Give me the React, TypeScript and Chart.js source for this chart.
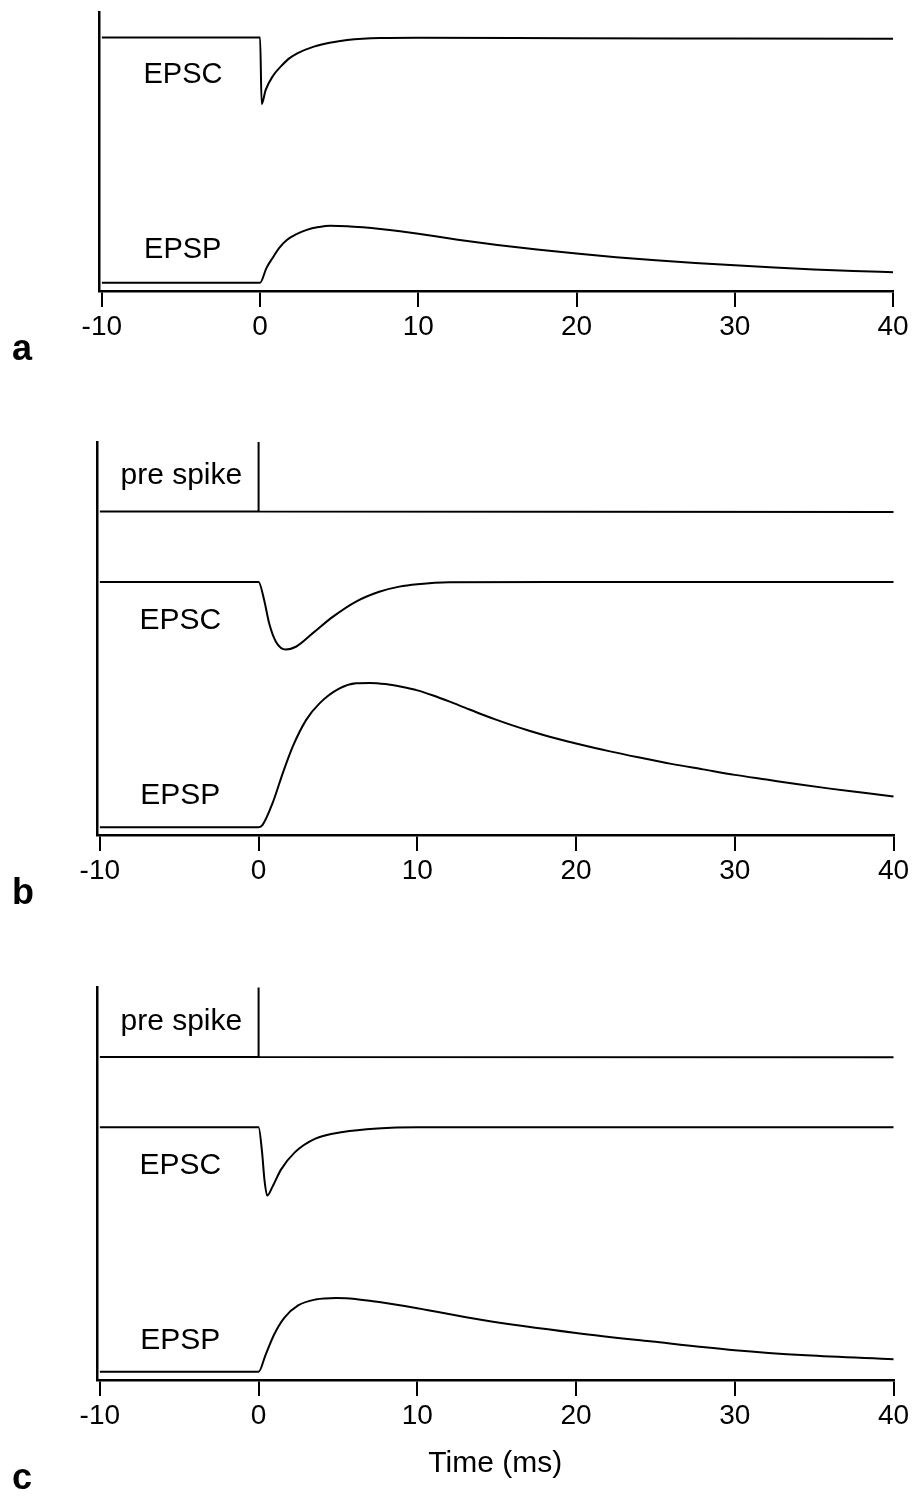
import React, { useEffect, useRef } from "react";
import { Chart, registerables } from "chart.js";

Chart.register(...registerables);

// ---- axis ----
const X_TICKS = [-10, 0, 10, 20, 30, 40];
const X_MIN = -10.18;
const X_MAX = 40;

// ---- panel a (arbitrary units, 0 = x axis, 100 = top of y axis) ----
const A_EPSC_T = [-10, 0, 0.1, 0.35, 0.8, 1.3, 1.8, 2.35, 3.4, 4.4, 5.5, 7.6, 10, 20, 30, 40];
const A_EPSC_V = [90.9, 90.9, 67.0, 72.0, 77.0, 80.4, 83.2, 85.2, 87.6, 89.0, 90.0, 90.7, 90.8, 90.6, 90.5, 90.4];

const A_EPSP_T = [-10, 0, 0.4, 0.84, 1.2, 1.69, 2.3, 2.95, 3.7, 4.42, 5.5, 6.5, 7.6, 8.85, 10, 12.5, 15, 17.5, 20, 22.5, 25, 27.5, 30, 32.5, 35, 37.5, 40];
const A_EPSP_V = [3.0, 3.0, 8.2, 12.3, 15.4, 18.3, 20.4, 21.9, 22.9, 23.4, 23.25, 22.85, 22.25, 21.4, 20.5, 18.4, 16.5, 14.85, 13.4, 12.1, 11.0, 10.0, 9.2, 8.4, 7.75, 7.2, 6.7];

// ---- panel b ----
const B_PRE_T = [-10, 0, 0, 0, 40];
const B_PRE_V = [82.3, 82.3, 100, 82.3, 82.2];

const B_EPSC_T = [-10, 0, 0.35, 0.67, 1.09, 1.72, 2.35, 3.4, 4.67, 6.14, 7.6, 8.87, 10, 12, 20, 30, 40];
const B_EPSC_V = [64.4, 64.4, 59.8, 53.8, 49.2, 47.2, 47.9, 51.3, 55.5, 59.4, 61.9, 63.2, 63.8, 64.3, 64.4, 64.4, 64.4];

const B_EPSP_T = [-10, 0, 0.24, 0.88, 1.52, 2.15, 3.0, 3.84, 5.1, 6.14, 7.0, 8.0, 9.0, 10, 11, 12, 13, 14, 15, 16, 17, 18, 19, 20, 22, 24, 26, 28, 30, 32, 34, 36, 38, 40];
const B_EPSP_V = [2.0, 2.0, 2.5, 8.1, 15.7, 22.5, 29.3, 33.5, 37.3, 38.6, 38.7, 38.4, 37.7, 36.8, 35.5, 34.0, 32.4, 30.8, 29.3, 27.9, 26.6, 25.4, 24.3, 23.3, 21.4, 19.7, 18.1, 16.7, 15.3, 14.1, 12.9, 11.8, 10.8, 9.8];

// ---- panel c ----
const C_PRE_T = [-10, 0, 0, 0, 40];
const C_PRE_V = [82.3, 82.3, 100, 82.3, 82.2];

const C_EPSC_T = [-10, 0, 0.22, 0.37, 0.54, 0.87, 1.41, 2.28, 3.58, 5.31, 7.48, 10, 20, 30, 40];
const C_EPSC_V = [64.4, 64.4, 58.0, 51.0, 47.0, 49.2, 53.6, 58.0, 61.5, 63.2, 64.1, 64.4, 64.4, 64.4, 64.4];

const C_EPSP_T = [-10, 0, 0.43, 0.98, 1.63, 2.49, 3.58, 4.88, 5.5, 6.18, 7.0, 7.6, 8.5, 9.2, 10, 14.1, 20, 24.8, 30, 34.5, 40];
const C_EPSP_V = [2.1, 2.1, 6.3, 11.6, 15.9, 19.0, 20.5, 20.9, 20.85, 20.6, 20.2, 19.85, 19.3, 18.85, 18.3, 15.3, 12.0, 9.8, 7.6, 6.3, 5.3];

type Series = { t: number[]; v: number[]; smooth: boolean };
type Label = { text: string; t: number; v: number };

const A_SERIES: Series[] = [
  { t: A_EPSC_T, v: A_EPSC_V, smooth: true },
  { t: A_EPSP_T, v: A_EPSP_V, smooth: true },
];
const B_SERIES: Series[] = [
  { t: B_PRE_T, v: B_PRE_V, smooth: false },
  { t: B_EPSC_T, v: B_EPSC_V, smooth: true },
  { t: B_EPSP_T, v: B_EPSP_V, smooth: true },
];
const C_SERIES: Series[] = [
  { t: C_PRE_T, v: C_PRE_V, smooth: false },
  { t: C_EPSC_T, v: C_EPSC_V, smooth: true },
  { t: C_EPSP_T, v: C_EPSP_V, smooth: true },
];

const A_LABELS: Label[] = [
  { text: "EPSC", t: -7.37, v: 74.4 },
  { text: "EPSP", t: -7.33, v: 11.7 },
];
const B_LABELS: Label[] = [
  { text: "pre spike", t: -8.7, v: 89.2 },
  { text: "EPSC", t: -7.5, v: 52.5 },
  { text: "EPSP", t: -7.45, v: 7.9 },
];
const C_LABELS: Label[] = [
  { text: "pre spike", t: -8.7, v: 89.2 },
  { text: "EPSC", t: -7.5, v: 52.5 },
  { text: "EPSP", t: -7.45, v: 7.9 },
];

const FONT = "Liberation Sans";

type PanelProps = {
  top: number;
  height: number;
  padTop: number;
  padLeft: number;
  padRight: number;
  axisHeight: number;
  series: Series[];
  labels: Label[];
  labelSize: number;
  title?: string;
};

function Panel(p: PanelProps) {
  const ref = useRef<HTMLCanvasElement>(null);
  useEffect(() => {
    if (!ref.current) return;
    const labelPlugin = {
      id: "traceLabels",
      afterDatasetsDraw(chart: any) {
        const ctx = chart.ctx;
        const xs = chart.scales.x;
        const ys = chart.scales.y;
        ctx.save();
        ctx.fillStyle = "#000";
        ctx.font = `${p.labelSize}px "${FONT}"`;
        ctx.textAlign = "left";
        ctx.textBaseline = "alphabetic";
        p.labels.forEach((l) => {
          ctx.fillText(l.text, xs.getPixelForValue(l.t), ys.getPixelForValue(l.v));
        });
        ctx.restore();
      },
    };
    const chart = new Chart(ref.current, {
      type: "line",
      data: {
        datasets: p.series.map((s) => ({
          data: s.t.map((t, i) => ({ x: t, y: s.v[i] })),
          borderColor: "#000",
          borderWidth: 2,
          pointRadius: 0,
          fill: false,
          tension: 0,
          cubicInterpolationMode: s.smooth ? "monotone" : "default",
          clip: false,
        })) as any,
      },
      options: {
        animation: false,
        responsive: false,
        maintainAspectRatio: false,
        layout: { padding: { left: p.padLeft, right: p.padRight, top: p.padTop, bottom: 0 } },
        plugins: { legend: { display: false }, tooltip: { enabled: false } },
        scales: {
          x: {
            type: "linear",
            min: X_MIN,
            max: X_MAX,
            afterBuildTicks: (s: any) => {
              s.ticks = X_TICKS.map((v) => ({ value: v }));
            },
            afterFit: (s: any) => {
              s.height = p.axisHeight;
            },
            grid: {
              display: true,
              drawOnChartArea: false,
              drawTicks: true,
              tickLength: 16,
              tickWidth: 2,
              tickColor: "#000",
              color: "#000",
              lineWidth: 2,
            },
            border: { display: true, color: "#000", width: 2.5 },
            ticks: {
              color: "#000",
              font: { family: FONT, size: 28 },
              padding: 3,
              autoSkip: false,
              maxRotation: 0,
              callback: (v: any) => String(v),
            },
            title: p.title
              ? { display: true, text: p.title, color: "#000", font: { family: FONT, size: 30 }, padding: 0 }
              : { display: false },
          },
          y: {
            type: "linear",
            min: 0,
            max: 100,
            ticks: { display: false },
            grid: { display: false, drawTicks: false },
            border: { display: true, color: "#000", width: 2.5 },
            afterFit: (s: any) => {
              s.width = 0;
            },
          },
        },
      } as any,
      plugins: [labelPlugin],
    });
    return () => chart.destroy();
  }, []);
  return (
    <canvas
      ref={ref}
      width={915}
      height={p.height}
      style={{ position: "absolute", left: 0, top: p.top, display: "block" }}
    />
  );
}

function Letter({ text, top }: { text: string; top: number }) {
  return (
    <div
      style={{
        position: "absolute",
        left: 12,
        top,
        fontFamily: FONT,
        fontWeight: "bold",
        fontSize: 36,
        lineHeight: "36px",
        color: "#000",
      }}
    >
      {text}
    </div>
  );
}

export default function App() {
  return (
    <div style={{ position: "absolute", left: 0, top: 0, width: 915, height: 1499, background: "#fff", overflow: "hidden" }}>
      <Panel top={0} height={345} padTop={12} padLeft={99} padRight={22} axisHeight={54} series={A_SERIES} labels={A_LABELS} labelSize={29} />
      <Panel top={400} height={489} padTop={42} padLeft={97} padRight={21.5} axisHeight={54} series={B_SERIES} labels={B_LABELS} labelSize={30} />
      <Panel
        top={940}
        height={542}
        padTop={47.5}
        padLeft={97}
        padRight={21.5}
        axisHeight={102}
        series={C_SERIES}
        labels={C_LABELS}
        labelSize={30}
        title="Time (ms)"
      />
      <Letter text="a" top={329.5} />
      <Letter text="b" top={873.5} />
      <Letter text="c" top={1458.5} />
    </div>
  );
}
